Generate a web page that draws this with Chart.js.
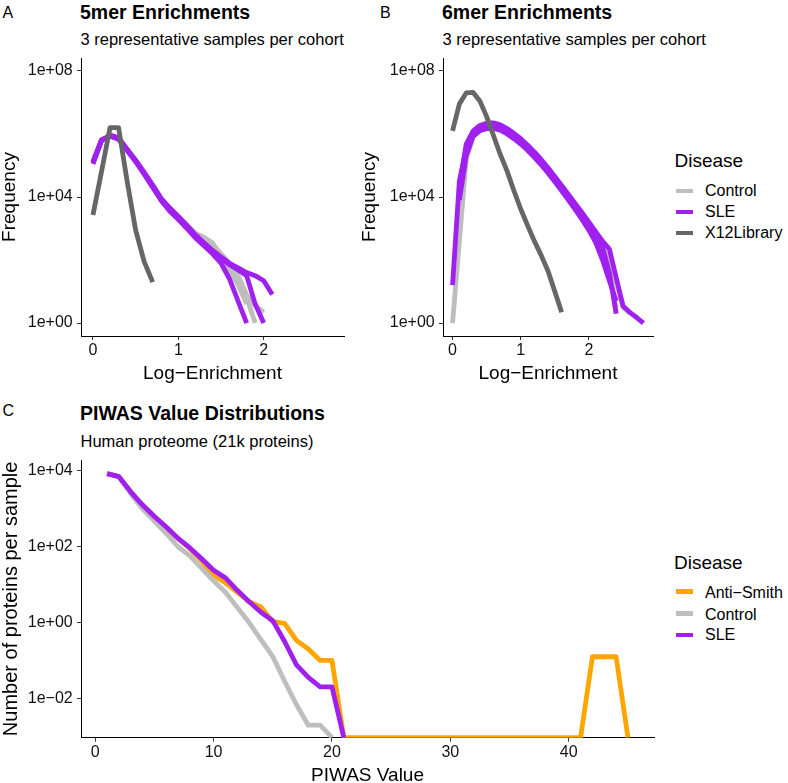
<!DOCTYPE html>
<html>
<head>
<meta charset="utf-8">
<script src="https://cdn.jsdelivr.net/npm/chart.js@4.4.1/dist/chart.umd.min.js"></script>
<style>
  html, body { margin: 0; padding: 0; overflow: hidden; background: #fff; }
  body { position: relative; width: 788px; height: 783px; font-family: 'Liberation Sans', Arial, sans-serif; color: #000; }
  .t { position: absolute; white-space: nowrap; line-height: 1; }
  .letter { font-size: 16px; }
  .title { font-size: 19.5px; font-weight: bold; }
  .sub { font-size: 16.5px; }
  .lgt { font-size: 19px; }
  .lab { font-size: 16px; }
  .sw { position: absolute; width: 17px; height: 4.6px; }
  .box { position: absolute; }
</style>
</head>
<body>

<div class="t letter" style="left:2.5px;top:5.2px">A</div>
<div class="t title" style="left:80px;top:2.8px">5mer Enrichments</div>
<div class="t sub" style="left:80.5px;top:31px">3 representative samples per cohort</div>

<div class="t letter" style="left:380px;top:5.2px">B</div>
<div class="t title" style="left:442px;top:2.8px">6mer Enrichments</div>
<div class="t sub" style="left:442.5px;top:31px">3 representative samples per cohort</div>

<div class="t letter" style="left:2.5px;top:403.2px">C</div>
<div class="t title" style="left:80px;top:403.5px">PIWAS Value Distributions</div>
<div class="t sub" style="left:80.5px;top:432.7px">Human proteome (21k proteins)</div>

<!-- legend for A/B -->
<div class="t lgt" style="left:674.5px;top:151.2px">Disease</div>
<div class="sw" style="left:676px;top:188.7px;background:#BEBEBE"></div>
<div class="t lab" style="left:705px;top:182.5px">Control</div>
<div class="sw" style="left:676px;top:209.7px;background:#A020F0"></div>
<div class="t lab" style="left:705px;top:203.8px">SLE</div>
<div class="sw" style="left:676px;top:230.7px;background:#666666"></div>
<div class="t lab" style="left:705px;top:224.8px">X12Library</div>

<!-- legend for C -->
<div class="t lgt" style="left:674px;top:553.2px">Disease</div>
<div class="sw" style="left:676px;top:589.4px;background:#FFA500"></div>
<div class="t lab" style="left:705px;top:584.8px">Anti−Smith</div>
<div class="sw" style="left:676px;top:611px;background:#BEBEBE"></div>
<div class="t lab" style="left:705px;top:606.5px">Control</div>
<div class="sw" style="left:676px;top:632.7px;background:#A020F0"></div>
<div class="t lab" style="left:705px;top:627.2px">SLE</div>

<div class="box" style="left:0px;top:44px;width:350px;height:351px"><canvas id="chartA"></canvas></div>
<div class="box" style="left:360px;top:44px;width:299px;height:351px"><canvas id="chartB"></canvas></div>
<div class="box" style="left:0px;top:446px;width:660px;height:344px"><canvas id="chartC"></canvas></div>

<script>
// ---- panel A: 5mer enrichments (Log-Enrichment bins 0 .. 2.1) ----
const enrich5 = [0, 0.1, 0.2, 0.3, 0.4, 0.5, 0.6, 0.7, 0.8, 0.9, 1.0,
                 1.1, 1.2, 1.3, 1.4, 1.5, 1.6, 1.7, 1.8, 1.9, 2.0, 2.1];
const x12Lib5 = [2700, 63000, 1600000, 1600000, 32000, 890, 89, 20];
const sle5a = [126000, 631000, 891000, 708000, 316000, 141000, 56200, 21400, 7590, 3550, 1910,
               1000, 500, 282, 158, 79, 25, 5, 1];
const sle5b = [112000, 603000, 933000, 759000, 331000, 148000, 60300, 24000, 8910, 4470, 2400,
               1260, 631, 355, 200, 112, 71, 48, 32, 4, 1];
const sle5c = [132000, 661000, 851000, 676000, 295000, 132000, 52500, 20000, 7940, 3980, 2140,
               1120, 603, 331, 200, 126, 79, 56, 40, 32, 22, 8];
const ctrl5a = [120000, 617000, 891000, 724000, 316000, 141000, 57500, 22900, 8910, 4470, 2400,
                1320, 708, 525, 355, 126, 50, 16, 4];
const ctrl5b = [126000, 631000, 871000, 708000, 309000, 138000, 55000, 21900, 8320, 4170, 2240,
                1200, 661, 447, 316, 158, 79, 32, 8, 3.5, 2.2];
const ctrl5c = [115000, 603000, 912000, 741000, 324000, 145000, 58900, 23400, 8510, 4270, 2290,
                1260, 631, 398, 251, 100, 50, 20, 6.3, 1];

// ---- panel B: 6mer enrichments (Log-Enrichment bins 0 .. 2.8) ----
const enrich6 = [0, 0.1, 0.2, 0.3, 0.4, 0.5, 0.6, 0.7, 0.8, 0.9, 1.0, 1.1, 1.2, 1.3, 1.4,
                 1.5, 1.6, 1.7, 1.8, 1.9, 2.0, 2.1, 2.2, 2.3, 2.4, 2.5, 2.6, 2.7, 2.8];
const x12Lib6 = [1260000, 8910000, 20000000, 20900000, 11200000, 3550000, 891000, 224000, 66100,
                 15800, 4170, 1260, 398, 141, 45, 10, 2.2];
const sle6a = [16, 31600, 355000, 1050000, 1580000, 1860000, 1910000, 1660000, 1260000, 891000,
               603000, 380000, 229000, 132000, 72400, 38000, 20000, 10000, 5010, 2400, 1120, 525,
               251, 40, 2];
const sle6b = [null, 7940, 200000, 832000, 1260000, 1480000, 1510000, 1320000, 1000000, 708000,
               479000, 302000, 182000, 105000, 57500, 30200, 15800, 7940, 3980, 1910, 891, 355,
               100, 22, 5];
const sle6c = [null, 20000, 479000, 1230000, 1860000, 2190000, 2240000, 1950000, 1480000, 1050000,
               708000, 447000, 269000, 155000, 85100, 44700, 23400, 12000, 6170, 3160, 1580, 794,
               398, 224, 28, 3.5, 2.2, 1.5, 1];
const ctrl6a = [1, 398, 158000, 794000, 1320000, 1580000, 1620000, 1410000, 1070000, 759000,
                513000, 324000, 195000, 112000, 61700, 32400, 16600, 8320, 4170, 2000, 891, 398,
                141, 32, 3.2];
const ctrl6b = [null, 2000, 251000, 891000, 1410000, 1740000, 1780000, 1580000, 1200000, 851000,
                575000, 363000, 219000, 126000, 69200, 36300, 18600, 9330, 4570, 2190, 1000, 479,
                224, 79, 2];
const ctrl6c = [null, 10000, 316000, 1000000, 1510000, 1820000, 1860000, 1620000, 1230000, 871000,
                589000, 372000, 224000, 129000, 70800, 37200, 19100, 9550, 4790, 2340, 1120, 562,
                282, 158, 20, 3.2, 2];

// ---- panel C: PIWAS value distributions (0 = none, drawn on the panel floor) ----
const piwasX = [1, 2, 3, 4, 5, 6, 7, 8, 9, 10, 11, 12, 13, 14, 15, 16, 17, 18, 19, 20, 21, 22, 23,
                24, 25, 26, 27, 28, 29, 30, 31, 32, 33, 34, 35, 36, 37, 38, 39, 40, 41, 42, 43, 44, 45];
const antiSmith = [8510, 7080, 2820, 1260, 631, 331, 166, 89.1, 41.7, 17.8, 11.2, 6.31, 3.55, 2.57,
                   1.05, 0.955, 0.339, 0.2, 0.1, 0.1,
                   0, 0, 0, 0, 0, 0, 0, 0, 0, 0, 0, 0, 0, 0, 0, 0, 0, 0, 0, 0, 0,
                   0.125, 0.125, 0.125, 0];
const slePiwas = [8510, 7080, 2820, 1260, 631, 331, 166, 93.3, 47.9, 24.0, 15.1, 7.08, 3.55, 1.86,
                  1.12, 0.316, 0.0759, 0.0355, 0.02, 0.02, 0];
const ctrlPiwas = [8510, 7080, 2510, 1000, 479, 224, 100, 57.5, 26.9, 12.6, 6.31, 2.51, 1, 0.355,
                   0.126, 0.0282, 0.00676, 0.00195, 0.00195, 0];

// ---- axes ----
const enrichTicks = [0, 1, 2];
const enrichTickLabels = ['0', '1', '2'];
const freqTicks = [1, 1e4, 1e8];
const freqTickLabels = ['1e+00', '1e+04', '1e+08'];
const piwasTicks = [0, 10, 20, 30, 40];
const piwasTickLabels = ['0', '10', '20', '30', '40'];
const protTicks = [0.01, 1, 100, 10000];
const protTickLabels = ['1e\u221202', '1e+00', '1e+02', '1e+04'];

const FONT = "'Liberation Sans', Arial, sans-serif";
const COL = { control: '#BEBEBE', sle: '#A020F0', x12: '#666666', anti: '#FFA500' };

function line(xs, ys, color, order, floor) {
  return {
    data: ys.map((y, i) => ({ x: xs[i], y: (y === 0 ? floor : y) })),
    borderColor: color,
    backgroundColor: color,
    borderWidth: 4.8,
    pointRadius: 0,
    pointHoverRadius: 0,
    tension: 0,
    fill: false,
    spanGaps: false,
    borderJoinStyle: 'round',
    borderCapStyle: 'butt',
    clip: 0,
    order: order
  };
}

function panel(id, c) {
  return new Chart(document.getElementById(id), {
    type: 'line',
    data: { datasets: c.datasets },
    options: {
      responsive: true,
      maintainAspectRatio: false,
      animation: false,
      devicePixelRatio: 1,
      layout: { padding: { top: 14, right: 6, bottom: 0, left: 0 } },
      plugins: { legend: { display: false }, tooltip: { enabled: false } },
      scales: {
        x: {
          type: 'linear',
          min: c.xMin, max: c.xMax, bounds: 'data',
          afterBuildTicks: s => { s.ticks = c.xTicks.map(v => ({ value: v })); },
          afterFit: s => { s.height = c.xAxisHeight; },
          ticks: {
            callback: (v, i) => c.xLabels[i],
            autoSkip: false, maxRotation: 0, padding: 1,
            color: '#111', font: { family: FONT, size: 16 }
          },
          grid: { display: true, drawOnChartArea: false, drawTicks: true, tickLength: 4, tickColor: '#333', tickWidth: 1 },
          border: { display: true, color: '#000', width: 1 },
          title: {
            display: true, text: c.xTitle, color: '#000',
            font: { family: FONT, size: 19, lineHeight: 1 },
            padding: { top: 0, bottom: c.xTitlePad }
          }
        },
        y: {
          type: 'logarithmic',
          min: c.yMin, max: c.yMax, bounds: 'data',
          afterBuildTicks: s => { s.ticks = c.yTicks.map(v => ({ value: v })); },
          afterFit: s => { s.width = c.yAxisWidth; },
          ticks: {
            callback: (v, i) => c.yLabels[i],
            autoSkip: false, padding: 4.3,
            color: '#111', font: { family: FONT, size: 16 }
          },
          grid: { display: true, drawOnChartArea: false, drawTicks: true, tickLength: 4, tickColor: '#333', tickWidth: 1 },
          border: { display: true, color: '#000', width: 1 },
          title: {
            display: true, text: c.yTitle, color: '#000',
            font: { family: FONT, size: c.yTitleSize, lineHeight: 1 },
            padding: { top: c.yTitlePad, bottom: 0 }
          }
        }
      }
    }
  });
}

const yMinAB = Math.pow(10, -0.41), yMaxAB = Math.pow(10, 8.41);
const yMinC = Math.pow(10, -3.04), yMaxC = Math.pow(10, 4.29);

panel('chartA', {
  datasets: [
    line(enrich5, x12Lib5, COL.x12, 0, yMinAB),
    line(enrich5, sle5a, COL.sle, 1, yMinAB),
    line(enrich5, sle5b, COL.sle, 1, yMinAB),
    line(enrich5, sle5c, COL.sle, 1, yMinAB),
    line(enrich5, ctrl5a, COL.control, 2, yMinAB),
    line(enrich5, ctrl5b, COL.control, 2, yMinAB),
    line(enrich5, ctrl5c, COL.control, 2, yMinAB)
  ],
  xMin: -0.14, xMax: 2.94, xTicks: enrichTicks, xLabels: enrichTickLabels,
  yMin: yMinAB, yMax: yMaxAB, yTicks: freqTicks, yLabels: freqTickLabels,
  xTitle: 'Log\u2212Enrichment', yTitle: 'Frequency', yTitleSize: 19,
  xAxisHeight: 59, yAxisWidth: 81, xTitlePad: 12.2, yTitlePad: 0.5
});

panel('chartB', {
  datasets: [
    line(enrich6, x12Lib6, COL.x12, 0, yMinAB),
    line(enrich6, sle6a, COL.sle, 1, yMinAB),
    line(enrich6, sle6b, COL.sle, 1, yMinAB),
    line(enrich6, sle6c, COL.sle, 1, yMinAB),
    line(enrich6, ctrl6a, COL.control, 2, yMinAB),
    line(enrich6, ctrl6b, COL.control, 2, yMinAB),
    line(enrich6, ctrl6c, COL.control, 2, yMinAB)
  ],
  xMin: -0.14, xMax: 2.94, xTicks: enrichTicks, xLabels: enrichTickLabels,
  yMin: yMinAB, yMax: yMaxAB, yTicks: freqTicks, yLabels: freqTickLabels,
  xTitle: 'Log\u2212Enrichment', yTitle: 'Frequency', yTitleSize: 19,
  xAxisHeight: 59, yAxisWidth: 83, xTitlePad: 12.2, yTitlePad: 0.5
});

panel('chartC', {
  datasets: [
    line(piwasX, slePiwas, COL.sle, 0, yMinC),
    line(piwasX, ctrlPiwas, COL.control, 1, yMinC),
    line(piwasX, antiSmith, COL.anti, 2, yMinC)
  ],
  xMin: -1.2, xMax: 47.2, xTicks: piwasTicks, xLabels: piwasTickLabels,
  yMin: yMinC, yMax: yMaxC, yTicks: protTicks, yLabels: protTickLabels,
  xTitle: 'PIWAS Value', yTitle: 'Number of proteins per sample', yTitleSize: 20,
  xAxisHeight: 52.3, yAxisWidth: 81, xTitlePad: 4.9, yTitlePad: 1
});
</script>
</body>
</html>
